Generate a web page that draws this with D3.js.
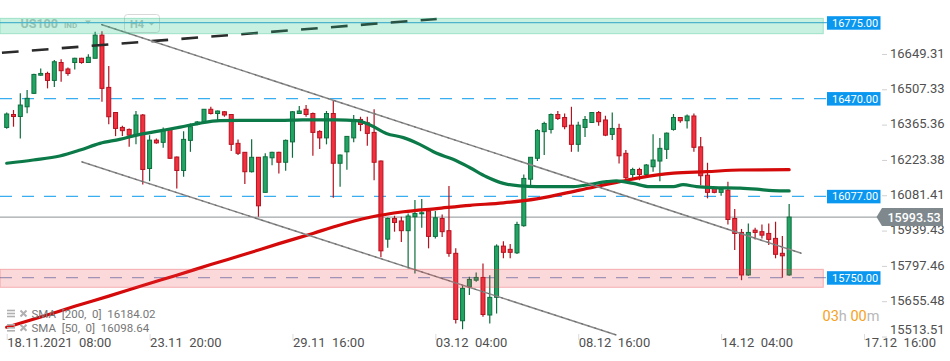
<!DOCTYPE html>
<html>
<head>
<meta charset="utf-8">
<script src="https://cdn.jsdelivr.net/npm/d3@7"></script>
<style>
  body { margin: 0; background: #fff; }
  svg { display: block; font-family: Roboto, "Open Sans", sans-serif; }
</style>
</head>
<body>
<div id="chart"></div>
<script>
// US100 H4 candles
const opens = [16354,16406,16398,16437,16491,16564,16571,16543,16615,16589,16615,16632,16615,16632,16725,16515,16414,16354,16346,16323,
  16404,16189,16303,16294,16346,16235,16181,16302,16366,16374,16427,16410,16417,16406,16290,16254,16176,16234,16093,16232,
  16254,16214,16296,16410,16427,16410,16338,16312,16410,16210,16256,16312,16386,16373,16334,16219,15905,15988,15978,15939,
  15995,16007,16018,15916,15988,15939,15848,15577,15713,15740,15751,15600,15671,15877,15864,15850,15959,16146,16230,16337,
  16346,16406,16394,16363,16286,16354,16374,16414,16384,16326,16350,16250,16165,16185,16165,16196,16219,16266,16346,16394,
  16381,16400,16276,16162,16109,16093,16102,15988,15932,15761,15941,15935,15928,15908,15848,15761];
const highs = [16414,16424,16491,16504,16570,16591,16578,16625,16628,16595,16634,16634,16648,16739,16741,16601,16416,16361,16350,16420,
  16408,16323,16310,16354,16350,16237,16339,16370,16380,16428,16437,16422,16420,16408,16306,16255,16307,16235,16250,16256,
  16256,16306,16420,16440,16444,16414,16343,16420,16464,16245,16319,16404,16397,16397,16427,16221,15992,15999,15995,16008,
  16062,16066,16026,16018,16004,16119,15868,15717,15754,15771,15807,15760,15884,15897,15885,15975,16165,16235,16347,16377,
  16410,16420,16410,16437,16377,16400,16416,16420,16401,16414,16369,16263,16192,16192,16207,16327,16312,16334,16408,16396,
  16406,16410,16316,16212,16111,16111,16136,16026,15946,15968,15951,15964,15968,15975,15918,16046];
const lows = [16349,16357,16310,16411,16488,16562,16511,16517,16538,16562,16587,16610,16614,16632,16457,16367,16319,16320,16276,16286,
  16125,16138,16288,16272,16227,16109,16156,16256,16363,16370,16406,16377,16397,16259,16243,16127,16173,15995,16092,16202,
  16169,16180,16232,16410,16397,16240,16267,16286,16071,16116,16184,16294,16339,16280,16142,15832,15870,15935,15894,15787,
  15767,15951,15868,15908,15914,15834,15566,15543,15680,15734,15593,15566,15606,15828,15828,15845,15955,16111,16219,16243,
  16330,16384,16347,16256,16256,16316,16373,16361,16319,16303,16209,16136,16146,16142,16153,16176,16138,16227,16341,16373,
  16350,16256,16122,16069,16089,16079,15964,15861,15740,15758,15904,15908,15881,15828,15750,15758];
const closes = [16408,16398,16444,16471,16567,16571,16543,16618,16582,16571,16632,16615,16636,16725,16511,16397,16350,16341,16323,16404,
  16185,16303,16292,16346,16230,16181,16306,16357,16376,16427,16410,16420,16404,16286,16250,16176,16234,16039,16236,16254,
  16214,16302,16417,16420,16406,16334,16312,16410,16210,16243,16318,16386,16366,16330,16214,15858,15988,15972,15939,15998,
  16008,16011,15916,15991,15935,15848,15582,15707,15743,15751,15602,15671,15877,15852,15852,15964,16149,16234,16342,16370,
  16406,16390,16357,16286,16363,16386,16414,16377,16323,16350,16240,16152,16185,16165,16203,16223,16270,16331,16394,16381,
  16400,16274,16160,16093,16093,16105,15984,15928,15761,15932,15932,15921,15904,15844,15838,15993.53];

// moving averages [bar index, value]
const sma50 = [[0,16210],[3.9,16223],[7.8,16239],[10.8,16263],[13.7,16290],[16.6,16306],[19.6,16326],[22.5,16340],[25.5,16355],
  [28.4,16371],[31.3,16381],[34.3,16382],[40.2,16382],[43.5,16384],[48.5,16384],[51.4,16381],[53.4,16364],[55.8,16330],
  [58.3,16313],[60.7,16286],[63.2,16250],[65.6,16226],[68.1,16192],[70.5,16156],[73,16129],[75.4,16119],[77.9,16116],
  [83.3,16116],[85.7,16125],[88.2,16136],[89.6,16139],[92.1,16129],[94.5,16116],[98,16116],[99.4,16124],[101.4,16116],
  [103.8,16112],[107.8,16110],[110.2,16106],[112.6,16100],[115,16098.64]];
const sma200 = [[0,15551],[5,15592],[10,15635],[15,15676],[20,15719],[25,15760],[30,15803],[35,15844],[40,15887],[45,15928],
  [48.5,15958],[53.4,15993],[58.3,16015],[63.2,16028],[68.1,16041],[73,16051],[77.9,16067],[84.2,16102],[90.1,16136],
  [93.1,16152],[98,16170],[102.9,16176],[107.8,16183],[115,16184.02]];

// drawn trend lines [bar index, price]
const topTrend = [[-0.7,16654],[63.2,16790]];
const channelUpper = [[13.9,16768],[116.8,15848]];
const channelLower = [[11,16216],[89.6,15520]];

const levels = [16470, 16077];
const resistance = 16775;
const support = 15750;
const greenZone = [16730.7, 16792.6];
const redZone = [15711.4, 15783.7];
const lastPrice = 15993.53;

const priceTicks = [15513.51,15655.48,15797.46,15939.43,16081.41,16223.38,16365.36,16507.33,16649.31];
const timeTicks = [0,21,42,63,84,105,126];
const timeLabels = ["18.11.2021  08:00","23.11  20:00","29.11  16:00","03.12  04:00","08.12  16:00","14.12  04:00","17.12  16:00"];

const W = 950, H = 361, plotRight = 823.3;

const svg = d3.select("#chart").append("svg")
  .attr("width", W).attr("height", H);
svg.append("rect").attr("width", W).attr("height", H).attr("fill", "#fff");

const x = d3.scaleLinear().domain([0, 126]).range([6.7, 864]);
const y = d3.scaleLinear().domain([15750, 16775]).range([277.7, 22.7]);

// symbol header (sits under the green zone)
const head = svg.append("g").attr("fill", "#b9c2be").style("font-weight", "bold");
head.append("text").attr("x", 20.5).attr("y", 28).style("font-size", "12.5px").text("US100");
head.append("text").attr("x", 64).attr("y", 27.5).style("font-size", "8px").text("IND");
head.append("path").attr("d", "M85,20.5 L91,20.5 L88,24 Z");
svg.append("rect").attr("x", 124.5).attr("y", 14.5).attr("width", 35).attr("height", 18).attr("rx", 3)
  .attr("fill", "none").attr("stroke", "#d8d8d8");
head.append("text").attr("x", 130).attr("y", 28).style("font-size", "11px").text("H4");
head.append("path").attr("d", "M148,22 L155,22 L151.5,25.5 Z");

// last price line
svg.append("line")
  .attr("x1", 0).attr("x2", 877).attr("y1", y(lastPrice)).attr("y2", y(lastPrice))
  .attr("stroke", "#8c9296").attr("stroke-width", 1);

// dashed horizontal levels
svg.selectAll(".lvl").data(levels).enter().append("line")
  .attr("x1", 0).attr("x2", 827).attr("y1", d => y(d)).attr("y2", d => y(d))
  .attr("stroke", "#38aef0").attr("stroke-width", 1.3).attr("stroke-dasharray", "12,10");

svg.append("line")
  .attr("x1", 0).attr("x2", 827).attr("y1", y(support)).attr("y2", y(support))
  .attr("stroke", "#8fa9d2").attr("stroke-width", 1.2).attr("stroke-dasharray", "12,10");

svg.append("line")
  .attr("x1", 0).attr("x2", 827).attr("y1", y(resistance)).attr("y2", y(resistance))
  .attr("stroke", "#5aaee0").attr("stroke-width", 1.3);

// candles
const candles = opens.map((o, i) => ({ i: i, o: o, h: highs[i], l: lows[i], c: closes[i] }));

const cg = svg.append("g");
cg.selectAll(".wick").data(candles).enter().append("line")
  .attr("x1", d => x(d.i)).attr("x2", d => x(d.i))
  .attr("y1", d => y(d.h)).attr("y2", d => y(d.l))
  .attr("stroke", d => d.c >= d.o ? "#0d6e3d" : "#b3121f")
  .attr("stroke-width", 1.2);
cg.selectAll(".body").data(candles).enter().append("rect")
  .attr("x", d => x(d.i) - 2).attr("width", 4)
  .attr("y", d => y(Math.max(d.o, d.c)))
  .attr("height", d => Math.max(1, Math.abs(y(d.o) - y(d.c))))
  .attr("fill", d => d.c >= d.o ? "#22a465" : "#f2303e")
  .attr("stroke", d => d.c >= d.o ? "#0d6e3d" : "#b3121f")
  .attr("stroke-width", 1);

// moving averages
const maLine = d3.line().x(d => x(d[0])).y(d => y(d[1])).curve(d3.curveMonotoneX);
svg.append("path").attr("d", maLine(sma200)).attr("fill", "none")
  .attr("stroke", "#d40a0a").attr("stroke-width", 3.2).attr("stroke-linecap", "round");
svg.append("path").attr("d", maLine(sma50)).attr("fill", "none")
  .attr("stroke", "#0b7a48").attr("stroke-width", 3.2).attr("stroke-linecap", "round");

// trend lines
const tl = d3.line().x(d => x(d[0])).y(d => y(d[1]));
svg.append("path").attr("d", tl(topTrend)).attr("fill", "none")
  .attr("stroke", "#2b2b2b").attr("stroke-width", 2.6).attr("stroke-dasharray", "16.7,13.3");
[channelUpper, channelLower].forEach(function(seg) {
  svg.append("path").attr("d", tl(seg)).attr("fill", "none")
    .attr("stroke", "#8a8a8a").attr("stroke-width", 1.5);
  svg.append("path").attr("d", tl(seg)).attr("fill", "none")
    .attr("stroke", "#666").attr("stroke-width", 1).attr("stroke-dasharray", "2,5");
});

// zones on top, semi transparent
svg.append("rect")
  .attr("x", 0).attr("width", plotRight)
  .attr("y", y(greenZone[1])).attr("height", y(greenZone[0]) - y(greenZone[1]))
  .attr("fill", "rgba(40,200,140,0.25)").attr("stroke", "rgba(40,190,130,0.35)");
svg.append("rect")
  .attr("x", 0).attr("width", plotRight)
  .attr("y", y(redZone[1])).attr("height", y(redZone[0]) - y(redZone[1]))
  .attr("fill", "rgba(235,60,70,0.2)").attr("stroke", "rgba(235,60,70,0.35)");

// price axis
const yAxis = svg.append("g").attr("transform", "translate(882,0)")
  .call(d3.axisRight(y).tickValues(priceTicks).tickSize(5).tickPadding(3).tickFormat(d3.format(".2f")));
yAxis.select(".domain").remove();
yAxis.selectAll(".tick line").attr("stroke", "#d0d0d0");
yAxis.selectAll(".tick text").attr("fill", "#505050").style("font-size", "13px")
  .style("font-family", "Roboto, sans-serif").attr("dy", "0.25em");
yAxis.selectAll(".tick").filter(d => d === priceTicks[0]).select("text").attr("y", -6.5);

// time axis
const xAxis = svg.append("g").attr("transform", "translate(0,334)")
  .call(d3.axisBottom(x).tickValues(timeTicks).tickSize(6).tickFormat((d, i) => timeLabels[i]));
xAxis.select(".domain").remove();
xAxis.selectAll(".tick line").attr("stroke", "#dcdcdc");
xAxis.selectAll(".tick text").attr("fill", "#505050").style("font-size", "13px")
  .style("font-family", "Roboto, sans-serif").style("white-space", "pre")
  .attr("text-anchor", "start").attr("y", 3.5).attr("dy", "0.71em");

// level tags
const tags = [resistance].concat(levels).concat([support]);
const tg = svg.selectAll(".tag").data(tags).enter().append("g")
  .attr("transform", d => "translate(827," + y(d) + ")");
tg.append("rect").attr("x", 0).attr("y", -6.5).attr("width", 53.5).attr("height", 13.5).attr("fill", "#0a97ef");
tg.append("text").attr("x", 5).attr("y", 0).attr("dy", "0.36em")
  .attr("fill", "#fff").style("font-size", "11px").text(d => d3.format(".2f")(d));

// last price tag
const ly = y(lastPrice);
svg.append("path")
  .attr("d", `M876.5,${ly} L882,${ly - 9} L943,${ly - 9} L943,${ly + 9} L882,${ly + 9} Z`)
  .attr("fill", "#7e888d");
svg.append("text").attr("x", 887.5).attr("y", ly).attr("dy", "0.36em")
  .attr("fill", "#fff").style("font-size", "12.5px").style("font-weight", "500")
  .text(d3.format(".2f")(lastPrice));

// countdown
const cd = svg.append("text").attr("x", 822.5).attr("y", 321).style("font-size", "14.5px");
cd.append("tspan").attr("fill", "#f5a21e").text("03");
cd.append("tspan").attr("fill", "#b8b8b8").text("h ");
cd.append("tspan").attr("fill", "#f5a21e").text("00");
cd.append("tspan").attr("fill", "#b8b8b8").text("m");

// indicator legend
const legend = [["SMA  [200,  0]  ", sma200[sma200.length - 1][1]], ["SMA  [50,  0]  ", sma50[sma50.length - 1][1]]];
legend.forEach(function(item, k) {
  const ly2 = 314 + k * 14.3;
  const g = svg.append("g").attr("transform", "translate(0," + ly2 + ")");
  [-3.5, -0.5, 2.5].forEach(function(dy) {
    g.append("line").attr("x1", 7).attr("x2", 15).attr("y1", dy).attr("y2", dy)
      .attr("stroke", "#b0b0b0").attr("stroke-width", 1.6);
  });
  g.append("path").attr("d", "M20.5,-3.5 L26.5,2.5 M26.5,-3.5 L20.5,2.5")
    .attr("stroke", "#b0b0b0").attr("stroke-width", 2);
  g.append("text").attr("x", 31.5).attr("y", 0).attr("dy", "0.36em")
    .attr("fill", "#777").style("font-size", "11.5px").style("white-space", "pre")
    .text(item[0] + d3.format(".2f")(item[1]));
});
</script>
</body>
</html>
